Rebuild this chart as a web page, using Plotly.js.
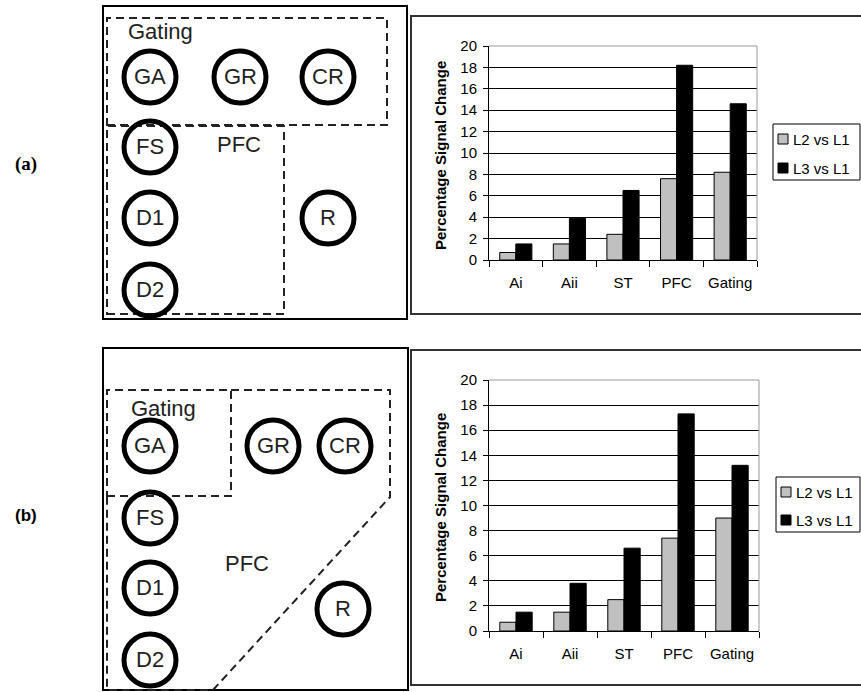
<!DOCTYPE html>
<html>
<head>
<meta charset="utf-8">
<script src="https://cdn.plot.ly/plotly-3.0.1.min.js"></script>
<style>html,body{margin:0;padding:0;background:#fff;}#chart{width:861px;height:692px;}</style>
</head>
<body>
<div id="chart"></div>
<script>
// ---- data ----
const categories = ["Ai", "Aii", "ST", "PFC", "Gating"];
const seriesNames = ["L2 vs L1", "L3 vs L1"];
const panelA_L2 = [0.7, 1.5, 2.4, 7.6, 8.2];
const panelA_L3 = [1.5, 3.9, 6.5, 18.2, 14.6];
const panelB_L2 = [0.7, 1.5, 2.5, 7.4, 9.0];
const panelB_L3 = [1.5, 3.8, 6.6, 17.3, 13.2];
const yTickVals = [0, 2, 4, 6, 8, 10, 12, 14, 16, 18, 20];
const yTitle = "Percentage Signal Change";
const panelLabels = ["(a)", "(b)"];
const nodeNames = ["GA", "GR", "CR", "FS", "D1", "D2", "R"];
const regionNames = ["Gating", "PFC"];
const seriesColors = ["#c0c0c0", "#000000"];

// ---- helpers (pixel -> paper) ----
const W = 861, H = 692;
const X = px => px / W;
const Y = py => 1 - py / H;
const FONT = "Liberation Sans, Arial, sans-serif";
const SERIF = "Liberation Serif, Times New Roman, serif";

const shapes = [];
const annotations = [];

function rect(x0, y0, x1, y1, line, fill) {
  shapes.push({type: "rect", xref: "paper", yref: "paper",
    x0: X(x0), x1: X(x1), y0: Y(y1), y1: Y(y0), line: line, fillcolor: fill || "rgba(0,0,0,0)", layer: "above"});
}
function path(pts, line) {
  let d = pts.map((p, i) => (i ? "L" : "M") + X(p[0]) + "," + Y(p[1])).join(" ");
  shapes.push({type: "path", xref: "paper", yref: "paper", path: d, line: line, layer: "above"});
}
function circle(cx, cy, r) {
  shapes.push({type: "circle", xref: "paper", yref: "paper",
    x0: X(cx - r), x1: X(cx + r), y0: Y(cy + r), y1: Y(cy - r),
    line: {color: "#000", width: 5}, layer: "above"});
}
function text(t, cx, cy, font, opts) {
  annotations.push(Object.assign({text: t, xref: "paper", yref: "paper", x: X(cx), y: Y(cy),
    xanchor: "center", yanchor: "middle", showarrow: false, font: font}, opts || {}));
}

const dashLine = {color: "#222", width: 2, dash: "8px,5px"};
const solidBox = {color: "#000", width: 2};
const nodeFont = {family: FONT, size: 22, color: "#222"};
const regionFont = {family: FONT, size: 22, color: "#222"};

// ---- diagram (a) ----
rect(103, 6, 407, 319, solidBox);
rect(107, 18, 387, 125, dashLine);
rect(107, 126, 284, 314, dashLine);
const posA = [[150, 77], [240, 77], [328, 77], [150, 147], [150, 218], [150, 290], [328, 218]];
posA.forEach((p, i) => { circle(p[0], p[1], 26); text(nodeNames[i], p[0], p[1] - 1, nodeFont); });
text(regionNames[0], 160, 31, regionFont);
text(regionNames[1], 239, 145, regionFont);

// ---- diagram (b) ----
rect(103, 348, 408, 690, solidBox);
rect(107, 390, 231, 496, dashLine);
path([[231, 390], [390, 390], [390, 497], [213, 690], [107, 690], [107, 496]], dashLine);
const posB = [[150, 446], [273, 446], [345, 446], [150, 518], [150, 588], [150, 660], [343, 609]];
posB.forEach((p, i) => { circle(p[0], p[1], 26); text(nodeNames[i], p[0], p[1] - 1, nodeFont); });
text(regionNames[0], 163, 408, regionFont);
text(regionNames[1], 247, 563, regionFont);

// panel labels
text(panelLabels[0], 26, 164, {family: SERIF, size: 19, color: "#000", weight: "bold"});
text(panelLabels[1], 26, 515, {family: FONT, size: 17, color: "#000", weight: "bold"});

// chart panel borders
rect(411, 16, 866, 314, {color: "#333", width: 2});
rect(411, 350, 866, 685, {color: "#333", width: 2});

// gray plot-area frame (top & right)
["", "2"].forEach(s => {
  shapes.push({type: "line", xref: "x" + s + " domain", yref: "y" + s + " domain", x0: 0, x1: 1, y0: 1, y1: 1, line: {color: "#999", width: 1}, layer: "above"});
  shapes.push({type: "line", xref: "x" + s + " domain", yref: "y" + s + " domain", x0: 1, x1: 1, y0: 0, y1: 1, line: {color: "#999", width: 1}, layer: "above"});
});

// y titles
const titleFont = {family: FONT, size: 15, color: "#000", weight: "bold"};
text(yTitle, 440, 156, titleFont, {textangle: -90});
text(yTitle, 440, 508, titleFont, {textangle: -90});

// legends (boxed, Excel style)
const legFont = {family: FONT, size: 15, color: "#000"};
function legend(x0, y0, x1, y1, rows) {
  rect(x0, y0, x1, y1, {color: "#000", width: 1}, "#fff");
  rows.forEach((r, i) => {
    rect(x0 + 5, r - 5, x0 + 15, r + 5, {color: "#000", width: 1}, seriesColors[i]);
    text(seriesNames[i], x0 + 18, r, legFont, {xanchor: "left"});
  });
}
legend(773, 124, 860, 180, [139, 168]);
legend(776, 477, 860, 532, [492, 520]);

// ---- traces ----
const barLine = {color: "#000", width: 1};
const traces = [
  {type: "bar", name: seriesNames[0], x: categories, y: panelA_L2, xaxis: "x", yaxis: "y",
   marker: {color: seriesColors[0], line: barLine}, hoverinfo: "skip"},
  {type: "bar", name: seriesNames[1], x: categories, y: panelA_L3, xaxis: "x", yaxis: "y",
   marker: {color: seriesColors[1], line: barLine}, hoverinfo: "skip"},
  {type: "bar", name: seriesNames[0], x: categories, y: panelB_L2, xaxis: "x2", yaxis: "y2",
   marker: {color: seriesColors[0], line: barLine}, hoverinfo: "skip"},
  {type: "bar", name: seriesNames[1], x: categories, y: panelB_L3, xaxis: "x2", yaxis: "y2",
   marker: {color: seriesColors[1], line: barLine}, hoverinfo: "skip"}
];

const xAxisBase = {type: "category", showline: true, linecolor: "#000", linewidth: 1, ticks: "outside",
  tickson: "boundaries", ticklen: 6, tickcolor: "#000", showgrid: false, zeroline: false, tickangle: 0,
  tickfont: {family: FONT, size: 15, color: "#000"}, ticklabelstandoff: 9, fixedrange: true};
const yAxisBase = {range: [0, 20], tickvals: yTickVals, showline: true, linecolor: "#000", linewidth: 1,
  ticks: "outside", ticklen: 5, tickcolor: "#000", showgrid: true, gridcolor: "#000", gridwidth: 1,
  zeroline: false, tickfont: {family: FONT, size: 15, color: "#000"}, ticklabelstandoff: 3, fixedrange: true};

const layout = {
  width: W, height: H, autosize: false,
  margin: {l: 0, r: 0, t: 0, b: 0, pad: 0, autoexpand: false},
  paper_bgcolor: "#fff", plot_bgcolor: "#fff",
  barmode: "group", bargap: 0.4, bargroupgap: 0,
  showlegend: false,
  xaxis: Object.assign({}, xAxisBase, {domain: [X(489), X(757)], anchor: "y"}),
  yaxis: Object.assign({}, yAxisBase, {domain: [Y(260), Y(46)], anchor: "x"}),
  xaxis2: Object.assign({}, xAxisBase, {domain: [X(489), X(759)], anchor: "y2"}),
  yaxis2: Object.assign({}, yAxisBase, {domain: [Y(631), Y(380)], anchor: "x2"}),
  shapes: shapes,
  annotations: annotations
};

Plotly.newPlot("chart", traces, layout, {displayModeBar: false, staticPlot: true});
</script>
</body>
</html>
